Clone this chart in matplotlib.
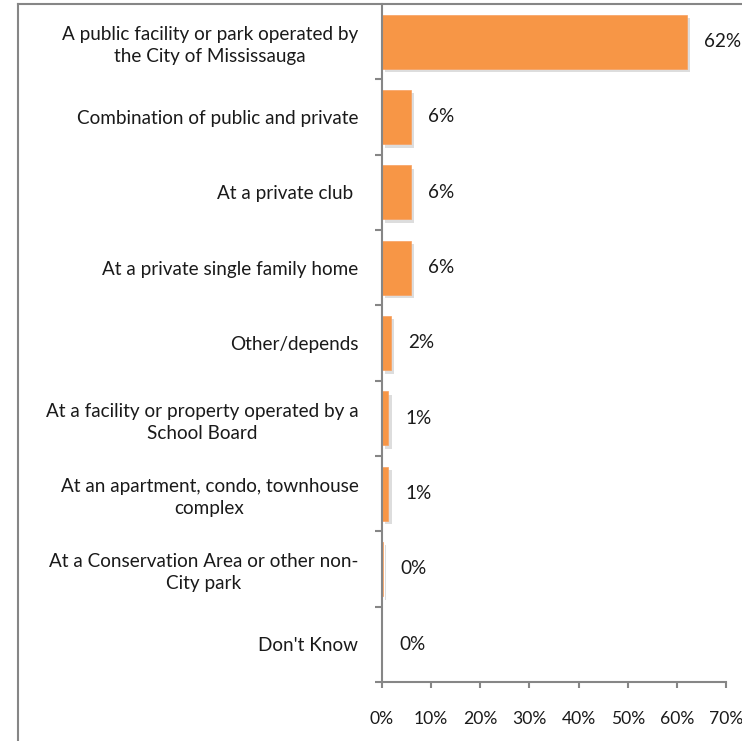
import matplotlib.pyplot as plt
import matplotlib.patheffects as pe
from matplotlib.lines import Line2D

# data
categories = ["A public facility or park operated by\nthe City of Mississauga",
              "Combination of public and private",
              "At a private club ",
              "At a private single family home",
              "Other/depends",
              "At a facility or property operated by a\nSchool Board",
              "At an apartment, condo, townhouse\ncomplex",
              "At a Conservation Area or other non-\nCity park",
              "Don't Know"]
values = [62, 5.9, 5.9, 5.9, 1.8, 1.3, 1.3, 0.2, 0]
labels = ["62%", "6%", "6%", "6%", "2%", "1%", "1%", "0%", "0%"]
xticks = [0, 10, 20, 30, 40, 50, 60, 70]

plt.rcParams['font.family'] = ['Lato', 'DejaVu Sans']
grey = '#868686'
fs = 13.6

fig = plt.figure(figsize=(7.42, 7.41), dpi=100, facecolor='w')
ax = fig.add_axes([382/742, 1-682/741, (726-382)/742, (682-4)/741])

ypos = list(range(len(categories)))
bars = ax.barh(ypos, values, height=0.72, color='#F79646', edgecolor='#F8A060', lw=0.5)
for b in bars:
    b.set_path_effects([pe.SimplePatchShadow(offset=(2.5, -2.5), shadow_rgbFace='#aaaaaa', alpha=0.4),
                        pe.Normal()])

for y, v, lab in zip(ypos, values, labels):
    ax.text(v + 3.5, y, lab, va='center', ha='left', fontsize=fs, color='#1a1a1a')

ax.set_ylim(len(categories) - 0.5, -0.5)
ax.set_xlim(0, 70)
ax.set_xticks(xticks)
ax.set_xticklabels([f"{t}%" for t in xticks], fontsize=12.6, color='#1a1a1a')
ax.set_yticks(ypos)
ax.set_yticklabels(categories, fontsize=fs, color='#1a1a1a', multialignment='center', linespacing=1.35)
ax.tick_params(axis='y', length=0, pad=17)
ax.tick_params(axis='x', length=4, color=grey, width=1.5, pad=17)

# y tick marks at boundaries
ax.set_yticks([i + 0.5 for i in range(len(categories))], minor=True)
ax.tick_params(axis='y', which='minor', length=5, color=grey, width=1.5)

for s in ['top', 'right']:
    ax.spines[s].set_visible(False)
for s in ['left', 'bottom']:
    ax.spines[s].set_color(grey)
    ax.spines[s].set_linewidth(1.5)

# outer frame (left and top)
fig.add_artist(Line2D([17.5/742, 17.5/742], [0, 1-4/741], transform=fig.transFigure, color=grey, lw=1.5))
fig.add_artist(Line2D([17.5/742, 1], [1-4/741, 1-4/741], transform=fig.transFigure, color=grey, lw=1.5))

fig.savefig('out.png', dpi=100)
